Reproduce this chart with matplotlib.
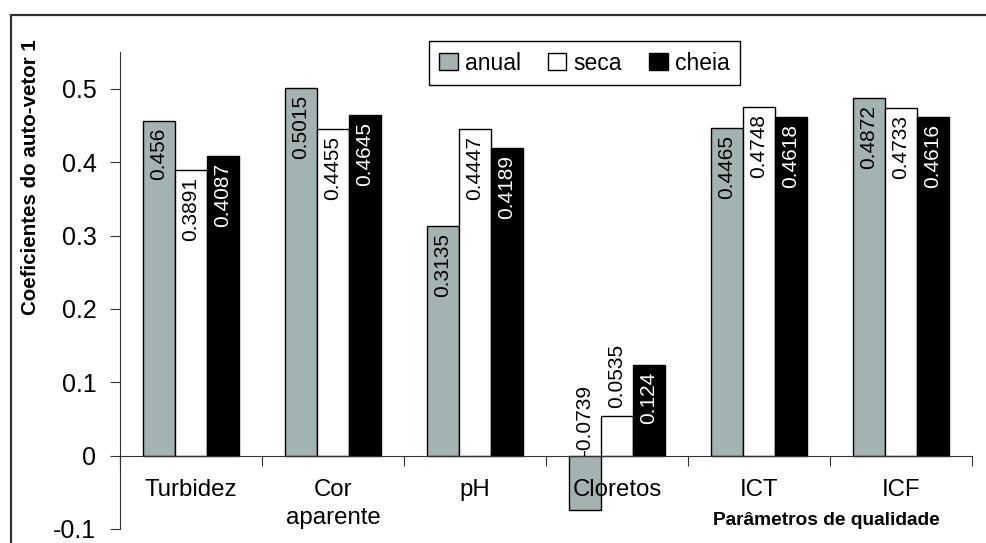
import matplotlib
matplotlib.use("Agg")
import matplotlib.pyplot as plt
from matplotlib.patches import Rectangle
import numpy as np

plt.rcParams['font.family'] = ['Liberation Sans', 'DejaVu Sans']
plt.rcParams['axes.unicode_minus'] = False

categories = ["Turbidez", "Cor\naparente", "pH", "Cloretos", "ICT", "ICF"]
series_names = ["anual", "seca", "cheia"]
anual = [0.456, 0.5015, 0.3135, -0.0739, 0.4465, 0.4872]
seca = [0.3891, 0.4455, 0.4447, 0.0535, 0.4748, 0.4733]
cheia = [0.4087, 0.4645, 0.4189, 0.124, 0.4618, 0.4616]
label_texts = [
    ["0.456", "0.5015", "0.3135", "-0.0739", "0.4465", "0.4872"],
    ["0.3891", "0.4455", "0.4447", "0.0535", "0.4748", "0.4733"],
    ["0.4087", "0.4645", "0.4189", "0.124", "0.4618", "0.4616"],
]
yticks = [-0.1, 0, 0.1, 0.2, 0.3, 0.4, 0.5]
ytick_labels = ["-0.1", "0", "0.1", "0.2", "0.3", "0.4", "0.5"]

colors = ["#a3b3b2", "#ffffff", "#000000"]
text_colors = ["black", "black", "white"]

fig = plt.figure(figsize=(9.87, 5.43), dpi=100)
ax = fig.add_axes([0.1216, 0.0258, 0.8632, 0.8782])

# figure border (left and top visible)
fig.patches.append(Rectangle((11 / 987, -0.1), 1.2, 1.1 - 15 / 543,
                             transform=fig.transFigure, fill=False,
                             edgecolor="#333333", linewidth=1.6, zorder=0))

n = len(categories)
x = np.arange(n)
width = 0.225
data = [anual, seca, cheia]
for i, (vals, name) in enumerate(zip(data, series_names)):
    pos = x + (i - 1) * width
    ax.bar(pos, vals, width=width, color=colors[i], edgecolor="black",
           linewidth=1.0, label=name, zorder=2)
    for p, v, t in zip(pos, vals, label_texts[i]):
        if v > 0.1:
            ax.annotate(t, (p, v), xytext=(0, -5), textcoords="offset points",
                        rotation=90, ha="center", va="top", fontsize=15,
                        color=text_colors[i], zorder=3)
        else:
            ax.annotate(t, (p, max(v, 0)), xytext=(0, 6 if v > 0 else 0),
                        textcoords="offset points", rotation=90, ha="center",
                        va="bottom", fontsize=15, color="black", zorder=3)

ax.set_axisbelow(False)
ax.set_xlim(-0.5, n - 0.5)
ax.set_ylim(-0.1, 0.55)

ax.spines['top'].set_visible(False)
ax.spines['right'].set_visible(False)
ax.spines['bottom'].set_position(('data', 0))
ax.spines['left'].set_color('#333333')
ax.spines['bottom'].set_color('#333333')

ax.set_yticks(yticks)
ax.set_yticklabels(ytick_labels, fontsize=18)
ax.tick_params(axis='y', direction='out', length=7, pad=10, color='#333333')

ax.set_xticks(np.arange(n + 1) - 0.5)
ax.set_xticklabels([])
ax.tick_params(axis='x', which='major', direction='out', length=7, color='#333333')
ax.set_xticks(x, minor=True)
ax.set_xticklabels(categories, minor=True, fontsize=17.3, linespacing=1.35)
ax.tick_params(axis='x', which='minor', length=0, pad=17)

fig.text(0.837, 0.042, "Parâmetros de qualidade", fontsize=13.8,
         fontweight="bold", ha="center", va="center")
fig.text(0.031, 0.674, "Coeficientes do auto-vetor 1", fontsize=14.8,
         fontweight="bold", rotation=90, ha="center", va="center")

leg = ax.legend(loc="center", bbox_to_anchor=(0.545, 0.977), ncol=3,
                fontsize=16.5, frameon=True, fancybox=False, framealpha=1,
                edgecolor="black", handlelength=0.8, handleheight=0.8,
                handletextpad=0.3, columnspacing=1.2, borderpad=0.45)
leg.get_frame().set_linewidth(1.0)
leg.set_zorder(5)

fig.savefig("out.png", dpi=100)
